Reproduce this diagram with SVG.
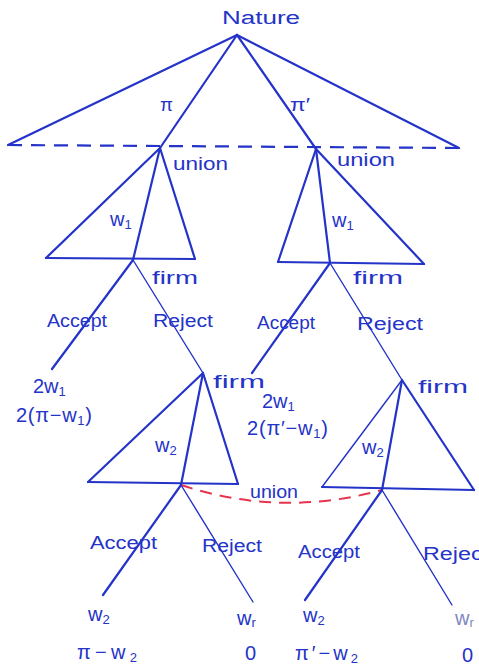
<svg xmlns="http://www.w3.org/2000/svg" width="479" height="669" viewBox="0 0 479 669">
<style>
text{font-family:"Liberation Sans","DejaVu Sans",sans-serif;fill:#2433c8;font-size:18px}
.ln{stroke:#2433c8;stroke-width:2.2;fill:none;stroke-linecap:round}
.thin{stroke:#2433c8;stroke-width:1.4;fill:none;stroke-linecap:round}
.dash{stroke:#2433c8;stroke-width:2.2;fill:none;stroke-dasharray:14 9}
.red{stroke:#e8334f;stroke-width:2;fill:none;stroke-dasharray:12 8}
.w{font-size:20px}
.sub{font-size:13px}
.gray{fill:#8088c0}
</style>
<rect width="479" height="669" fill="#ffffff"/>
<g id="connectors">
<line class="ln" x1="237" y1="35" x2="8" y2="145"/>
<line class="ln" x1="237" y1="35" x2="160" y2="148"/>
<line class="ln" x1="237" y1="35" x2="316" y2="149"/>
<line class="ln" x1="237" y1="35" x2="459" y2="148"/>
<line class="dash" x1="8" y1="145" x2="459" y2="148"/>
<line class="ln" x1="160" y1="148" x2="46" y2="258"/>
<line class="ln" x1="160" y1="148" x2="195" y2="259"/>
<line class="ln" x1="46" y1="258" x2="195" y2="259"/>
<line class="ln" x1="160" y1="148" x2="133" y2="260"/>
<line class="ln" x1="316" y1="149" x2="278" y2="262"/>
<line class="ln" x1="316" y1="149" x2="424" y2="264"/>
<line class="ln" x1="278" y1="262" x2="424" y2="264"/>
<line class="ln" x1="316" y1="149" x2="330" y2="263"/>
<line class="ln" x1="133" y1="260" x2="52" y2="369"/>
<line class="thin" x1="133" y1="260" x2="203" y2="373"/>
<line class="ln" x1="330" y1="263" x2="252" y2="373"/>
<line class="thin" x1="330" y1="263" x2="402" y2="380"/>
<line class="ln" x1="203" y1="373" x2="88" y2="482"/>
<line class="ln" x1="203" y1="373" x2="238" y2="484"/>
<line class="ln" x1="88" y1="482" x2="238" y2="484"/>
<line class="ln" x1="203" y1="373" x2="181" y2="485"/>
<line class="thin" x1="402" y1="380" x2="322" y2="487"/>
<line class="ln" x1="402" y1="380" x2="474" y2="490"/>
<line class="ln" x1="322" y1="487" x2="474" y2="490"/>
<line class="ln" x1="402" y1="380" x2="382" y2="490"/>
<path class="red" d="M181,485 Q280,518 382,490"/>
<line class="ln" x1="181" y1="485" x2="103" y2="595"/>
<line class="thin" x1="181" y1="485" x2="253" y2="602"/>
<line class="ln" x1="382" y1="490" x2="305" y2="600"/>
<line class="thin" x1="382" y1="490" x2="452" y2="605"/>
<text x="160" y="111" textLength="13" lengthAdjust="spacingAndGlyphs">π</text>
<text x="290" y="111" textLength="20" lengthAdjust="spacingAndGlyphs">π′</text>
<text x="47" y="327" textLength="60" lengthAdjust="spacingAndGlyphs">Accept</text>
<text x="153" y="327" textLength="60" lengthAdjust="spacingAndGlyphs">Reject</text>
<text x="257" y="329" textLength="58" lengthAdjust="spacingAndGlyphs">Accept</text>
<text x="357" y="330" textLength="66" lengthAdjust="spacingAndGlyphs">Reject</text>
<text class="w" x="110" y="226">w<tspan class="sub" dy="3">1</tspan></text>
<text class="w" x="332" y="227">w<tspan class="sub" dy="3">1</tspan></text>
<text class="w" x="155" y="452">w<tspan class="sub" dy="3">2</tspan></text>
<text class="w" x="362" y="454">w<tspan class="sub" dy="3">2</tspan></text>
<text x="90" y="549" textLength="67" lengthAdjust="spacingAndGlyphs">Accept</text>
<text x="202" y="552" textLength="60" lengthAdjust="spacingAndGlyphs">Reject</text>
<text x="298" y="558" textLength="62" lengthAdjust="spacingAndGlyphs">Accept</text>
<text x="423" y="560" textLength="66" lengthAdjust="spacingAndGlyphs">Reject</text>
</g>
<g id="nature"><text x="222" y="24" textLength="78" lengthAdjust="spacingAndGlyphs">Nature</text></g>
<g id="union1"><text x="173" y="170" textLength="55" lengthAdjust="spacingAndGlyphs">union</text></g>
<g id="union2"><text x="337" y="166" textLength="58" lengthAdjust="spacingAndGlyphs">union</text></g>
<g id="firm1"><text x="152" y="284" textLength="46" lengthAdjust="spacingAndGlyphs">firm</text></g>
<g id="firm2"><text x="353" y="284" textLength="50" lengthAdjust="spacingAndGlyphs">firm</text></g>
<g id="payoff1"><text class="w" x="33" y="393">2w<tspan class="sub" dy="3">1</tspan></text><text class="w" x="16" y="422" textLength="76" lengthAdjust="spacing">2(π−w<tspan class="sub" dy="3">1</tspan><tspan dy="-3">)</tspan></text></g>
<g id="payoff2"><text class="w" x="262" y="408">2w<tspan class="sub" dy="3">1</tspan></text><text class="w" x="247" y="435" textLength="81" lengthAdjust="spacing">2(π′−w<tspan class="sub" dy="3">1</tspan><tspan dy="-3">)</tspan></text></g>
<g id="firm3"><text x="213" y="388" textLength="52" lengthAdjust="spacingAndGlyphs">firm</text></g>
<g id="firm4"><text x="418" y="393" textLength="50" lengthAdjust="spacingAndGlyphs">firm</text></g>
<g id="union3"><text x="250" y="498" textLength="48" lengthAdjust="spacingAndGlyphs">union</text></g>
<g id="leaf1"><text class="w" x="88" y="621">w<tspan class="sub" dy="3">2</tspan></text><text class="w" x="77" y="659" textLength="60" lengthAdjust="spacing">π−w<tspan class="sub" dy="3">2</tspan></text></g>
<g id="leaf2"><text class="w" x="237" y="625">w<tspan class="sub" dy="2">r</tspan></text><text class="w" x="245" y="660">0</text></g>
<g id="leaf3"><text class="w" x="303" y="622">w<tspan class="sub" dy="3">2</tspan></text><text class="w" x="295" y="660" textLength="63" lengthAdjust="spacing">π′−w<tspan class="sub" dy="3">2</tspan></text></g>
<g id="leaf4"><text class="w gray" x="455" y="625">w<tspan class="sub gray" dy="2">r</tspan></text><text class="w" x="462" y="662">0</text></g>
</svg>
